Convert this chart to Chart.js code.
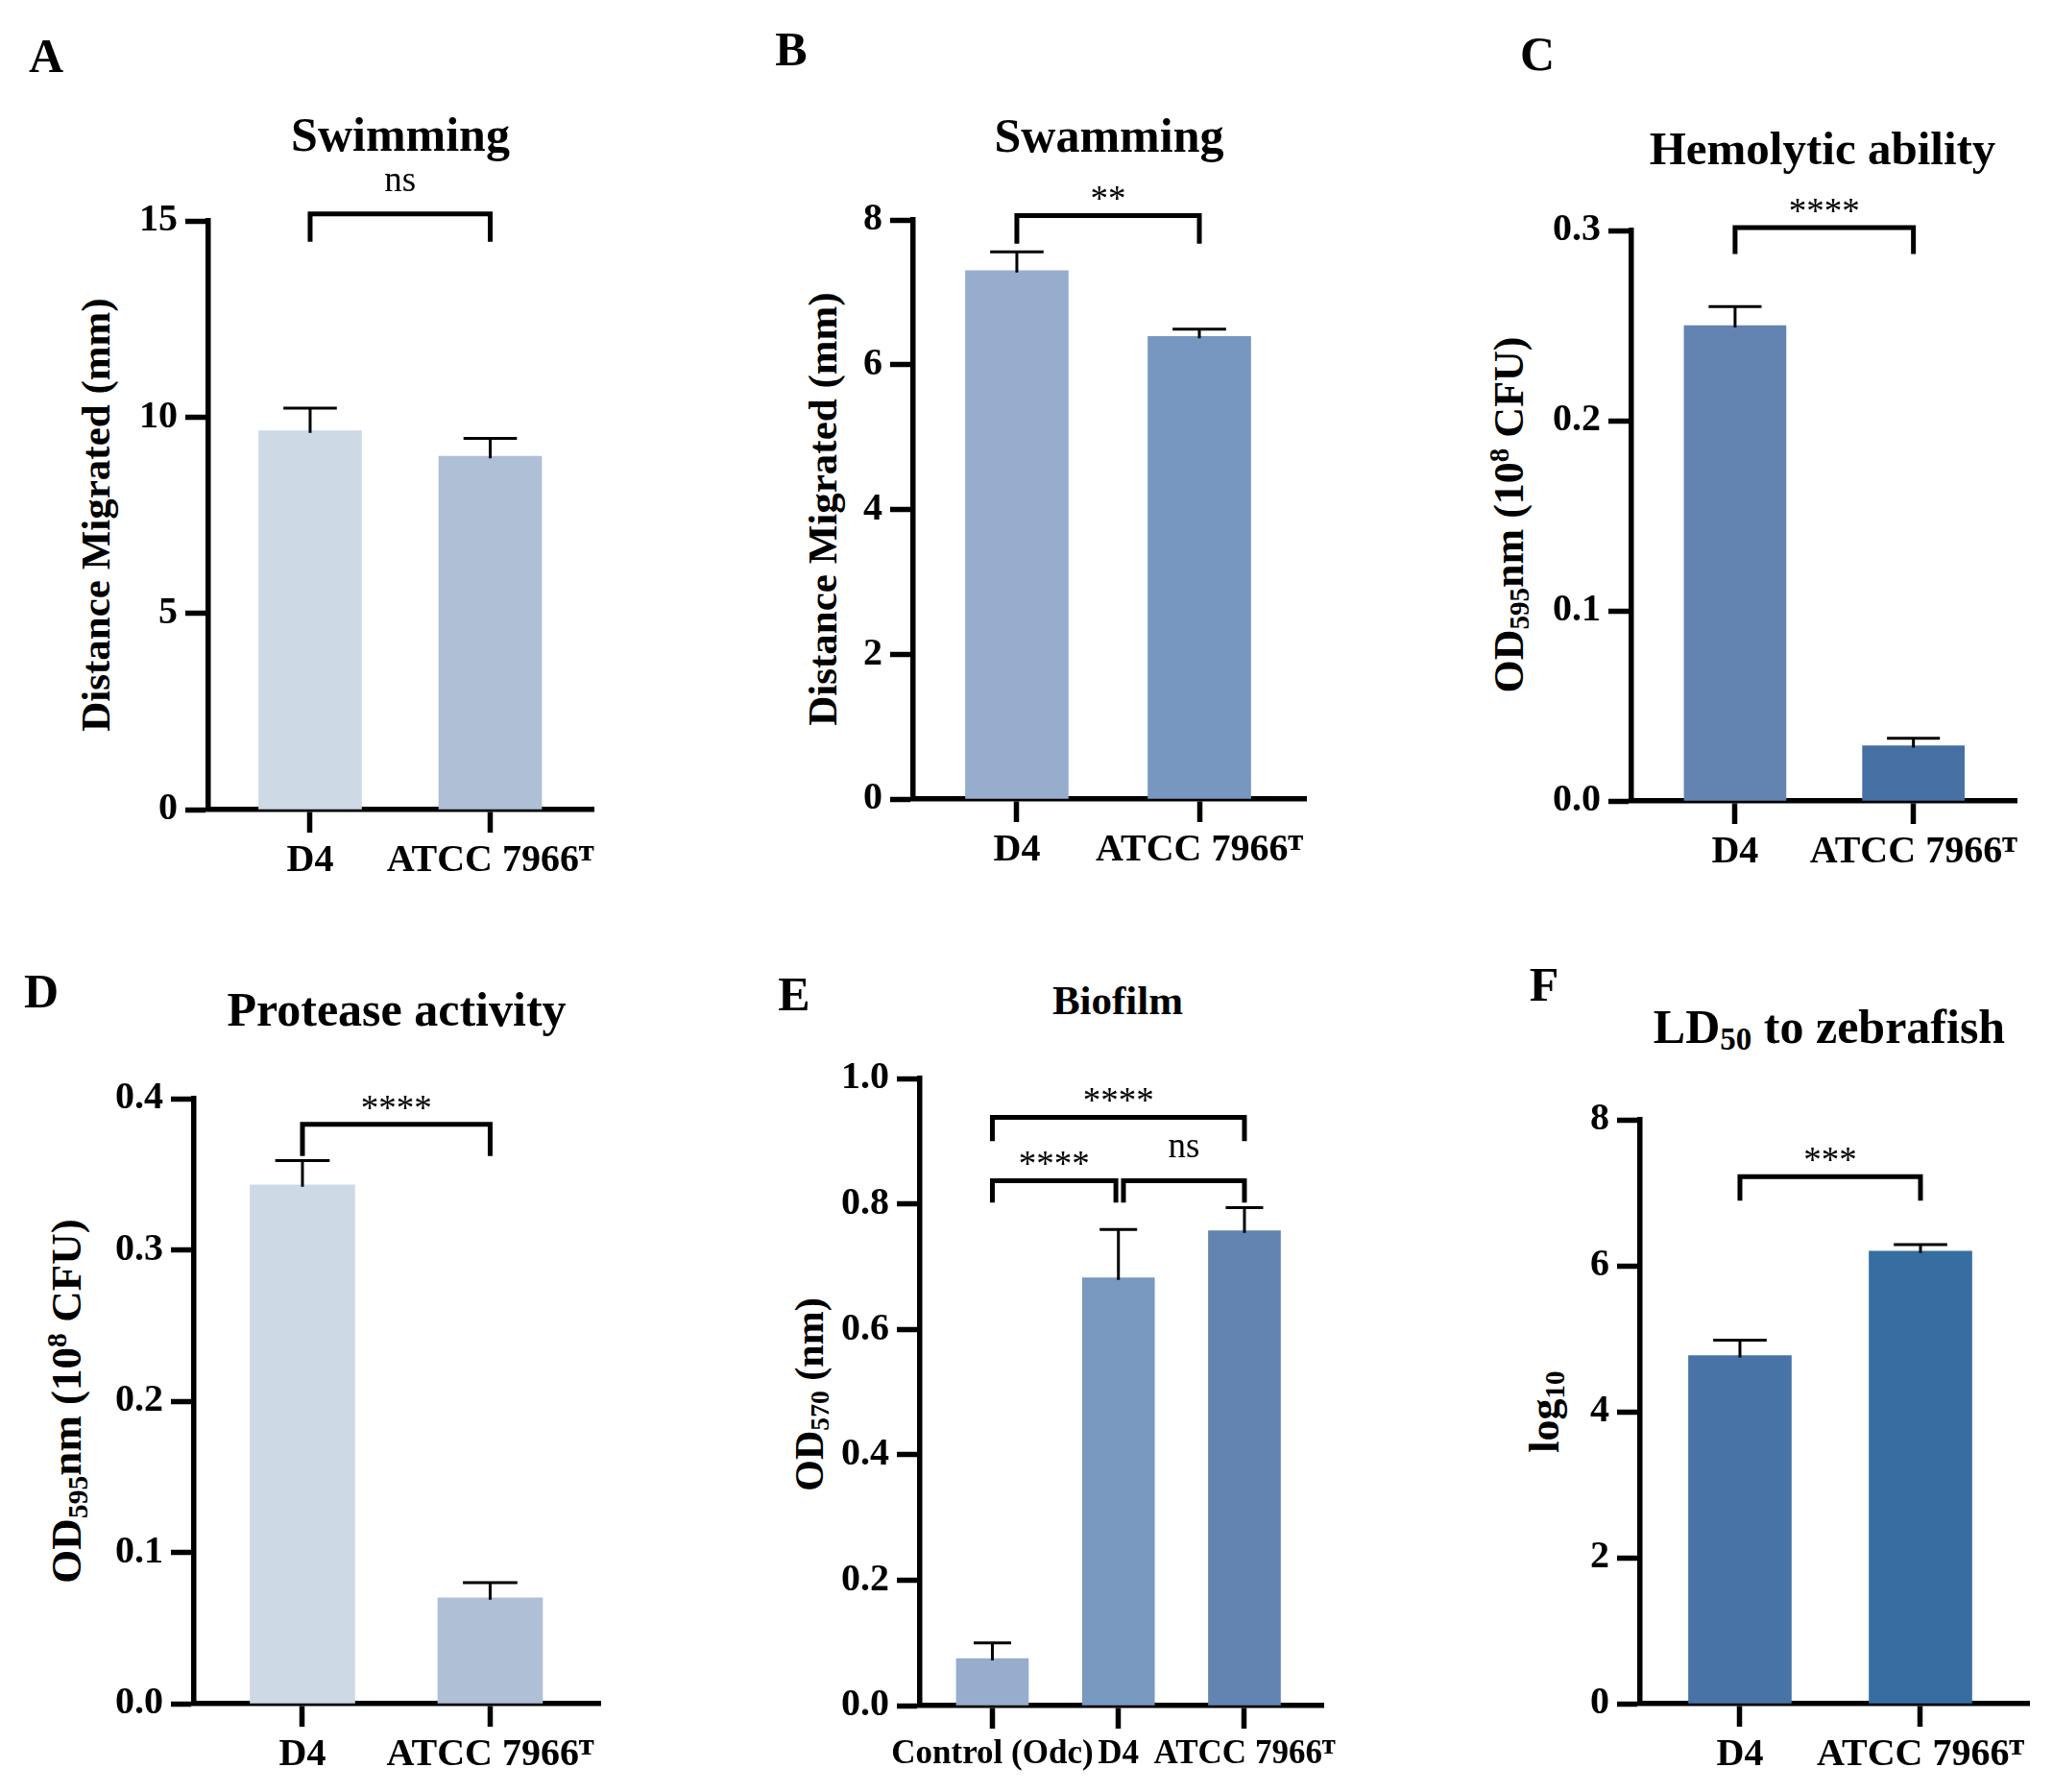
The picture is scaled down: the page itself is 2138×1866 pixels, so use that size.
<!DOCTYPE html>
<html>
<head>
<meta charset="utf-8">
<title>Virulence phenotypes</title>
<script src="https://cdn.jsdelivr.net/npm/chart.js@4.4.1/dist/chart.umd.min.js"></script>
<style>
  body { margin: 0; background: #fff; width: 2138px; height: 1866px; position: relative; overflow: hidden;
         font-family: 'Liberation Serif', 'Times New Roman', serif; color: #000; }
  canvas { position: absolute; }
  .txt { position: absolute; font-weight: bold; line-height: 1; white-space: nowrap; transform: translate(-50%, -50%); }
  .rot { transform: translate(-50%, -50%) rotate(-90deg); }
  .sub { font-size: 0.66em; position: relative; top: 0.22em; }
  .sup { font-size: 0.66em; position: relative; top: -0.5em; }
</style>
</head>
<body>
<!-- panel letters -->
<div class="txt" style="left:48px;top:58px;font-size:50px">A</div>
<div class="txt" style="left:824px;top:51px;font-size:50px">B</div>
<div class="txt" style="left:1601px;top:56px;font-size:50px">C</div>
<div class="txt" style="left:43px;top:1032px;font-size:50px">D</div>
<div class="txt" style="left:827px;top:1035px;font-size:50px">E</div>
<div class="txt" style="left:1608px;top:1025px;font-size:50px">F</div>

<!-- panel titles -->
<div class="txt" style="left:417px;top:140px;font-size:50px">Swimming</div>
<div class="txt" style="left:1155px;top:141px;font-size:50px">Swamming</div>
<div class="txt" style="left:1898px;top:154px;font-size:49px">Hemolytic ability</div>
<div class="txt" style="left:413px;top:1051px;font-size:50px">Protease activity</div>
<div class="txt" style="left:1164px;top:1041px;font-size:43px">Biofilm</div>
<div class="txt" style="left:1905px;top:1069px;font-size:50px">LD<span class="sub">50</span> to zebrafish</div>

<!-- y axis titles -->
<div class="txt rot" style="left:99px;top:536px;font-size:43px">Distance Migrated (mm)</div>
<div class="txt rot" style="left:856px;top:530px;font-size:43px">Distance Migrated (mm)</div>
<div class="txt rot" style="left:1572px;top:536px;font-size:44px">OD<span class="sub">595</span>nm (10<span class="sup">8</span> CFU)</div>
<div class="txt rot" style="left:69px;top:1459px;font-size:45px">OD<span class="sub">595</span>nm (10<span class="sup">8</span> CFU)</div>
<div class="txt rot" style="left:843px;top:1452px;font-size:42px">OD<span class="sub">570</span> (nm)</div>
<div class="txt rot" style="left:1609px;top:1470px;font-size:44px">log<span class="sub">10</span></div>

<script>
// categories
const strainLabels = ['D4', 'ATCC 7966ᵀ'];
const biofilmLabels = ['Control (Odc)', 'D4', 'ATCC 7966ᵀ'];

// means and upper SD
const swimmingMeans = [9.65, 9.0];
const swimmingSD = [0.58, 0.46];
const swarmingMeans = [7.3, 6.39];
const swarmingSD = [0.26, 0.1];
const hemolysisMeans = [0.25, 0.029];
const hemolysisSD = [0.01, 0.004];
const proteaseMeans = [0.343, 0.07];
const proteaseSD = [0.016, 0.01];
const biofilmMeans = [0.075, 0.682, 0.757];
const biofilmSD = [0.025, 0.077, 0.037];
const ld50Means = [4.77, 6.2];
const ld50SD = [0.21, 0.09];

// y axis: max, step, decimals
const swimmingAxis = [15, 5, 0];
const swarmingAxis = [8, 2, 0];
const hemolysisAxis = [0.3, 0.1, 1];
const proteaseAxis = [0.4, 0.1, 1];
const biofilmAxis = [1.0, 0.2, 1];
const ld50Axis = [8, 2, 0];

// significance brackets: from, to, top, bottom (data units), label
const swimmingSig = [[0, 1, 15.18, 14.47, 'ns']];
const swarmingSig = [[0, 1, 8.06, 7.67, '**']];
const hemolysisSig = [[0, 1, 0.3015, 0.2876, '****']];
const proteaseSig = [[0, 1, 0.383, 0.362, '****']];
const biofilmSig = [
  [0, 2, 0.938, 0.9, '****'],
  [0, 0.98, 0.837, 0.802, '****'],
  [1.04, 2, 0.837, 0.802, 'ns']
];
const ld50Sig = [[0, 1, 7.22, 6.89, '***']];

const swimmingColors = ['#cdd9e5', '#aebfd6'];
const swarmingColors = ['#97adcd', '#7797c0'];
const hemolysisColors = ['#6383b1', '#4670a3'];
const proteaseColors = ['#cdd9e5', '#aebfd6'];
const biofilmColors = ['#97adcd', '#7a99c0', '#6384b1'];
const ld50Colors = ['#4773a6', '#366ea2'];

const BLACK = '#000';
const SERIF = "'Liberation Serif', 'Times New Roman', serif";

// canvas box and chart area are page coordinates: [left, top, width, height] / [left, top, right, bottom]
const panels = [
  { id: 'A', canvas: [0, 0, 700, 935], area: [217, 230, 618, 843], xr: [-0.565, 1.573],
    labels: strainLabels, means: swimmingMeans, sd: swimmingSD, axis: swimmingAxis,
    sig: swimmingSig, colors: swimmingColors, bar: 107, labelSize: 40 },
  { id: 'B', canvas: [700, 0, 700, 935], area: [951, 229, 1360, 832], xr: [-0.568, 1.584],
    labels: strainLabels, means: swarmingMeans, sd: swarmingSD, axis: swarmingAxis,
    sig: swarmingSig, colors: swarmingColors, bar: 107, labelSize: 40 },
  { id: 'C', canvas: [1400, 0, 738, 935], area: [1699, 240, 2100, 834], xr: [-0.581, 1.578],
    labels: strainLabels, means: hemolysisMeans, sd: hemolysisSD, axis: hemolysisAxis,
    sig: hemolysisSig, colors: hemolysisColors, bar: 106, labelSize: 40 },
  { id: 'D', canvas: [0, 935, 700, 931], area: [202, 1144, 625, 1774], xr: [-0.578, 1.586],
    labels: strainLabels, means: proteaseMeans, sd: proteaseSD, axis: proteaseAxis,
    sig: proteaseSig, colors: proteaseColors, bar: 109, labelSize: 40 },
  { id: 'E', canvas: [700, 935, 720, 931], area: [958, 1123, 1378, 1776], xr: [-0.575, 2.625],
    labels: biofilmLabels, means: biofilmMeans, sd: biofilmSD, axis: biofilmAxis,
    sig: biofilmSig, colors: biofilmColors, bar: 75, labelSize: 35 },
  { id: 'F', canvas: [1420, 935, 718, 931], area: [1708, 1166, 2113, 1774], xr: [-0.553, 1.601],
    labels: strainLabels, means: ld50Means, sd: ld50SD, axis: ld50Axis,
    sig: ld50Sig, colors: ld50Colors, bar: 107, labelSize: 40 }
];

// error bars (upper half) and significance brackets
function annotations(p) {
  return {
    id: 'annot' + p.id,
    afterDraw(chart) {
      const { ctx, scales: { x, y } } = chart;
      ctx.save();
      ctx.strokeStyle = BLACK;
      ctx.lineCap = 'butt';
      ctx.lineWidth = 3;
      p.means.forEach((m, i) => {
        const cx = x.getPixelForValue(i);
        const y0 = y.getPixelForValue(m);
        const y1 = y.getPixelForValue(m + p.sd[i]);
        const half = p.bar * 0.26;
        ctx.beginPath();
        ctx.moveTo(cx, y0 + 2);
        ctx.lineTo(cx, y1);
        ctx.moveTo(cx - half, y1);
        ctx.lineTo(cx + half, y1);
        ctx.stroke();
      });
      ctx.lineWidth = 5;
      ctx.lineJoin = 'miter';
      ctx.fillStyle = BLACK;
      ctx.textAlign = 'center';
      ctx.textBaseline = 'alphabetic';
      ctx.font = '37px ' + SERIF;
      p.sig.forEach(([from, to, top, bottom, label]) => {
        const x1 = x.getPixelForValue(from);
        const x2 = x.getPixelForValue(to);
        const yt = y.getPixelForValue(top);
        const yb = y.getPixelForValue(bottom);
        ctx.beginPath();
        ctx.moveTo(x1, yb);
        ctx.lineTo(x1, yt);
        ctx.lineTo(x2, yt);
        ctx.lineTo(x2, yb);
        ctx.stroke();
        ctx.fillText(label, (x1 + x2) / 2, yt - (label === 'ns' ? 24 : 5));
      });
      ctx.restore();
    }
  };
}

panels.forEach(p => {
  const [cl, ct, cw, ch] = p.canvas;
  const [al, at, ar, ab] = p.area;
  const cv = document.createElement('canvas');
  cv.width = cw;
  cv.height = ch;
  cv.style.left = cl + 'px';
  cv.style.top = ct + 'px';
  cv.style.width = cw + 'px';
  cv.style.height = ch + 'px';
  document.body.appendChild(cv);

  const axisGrid = { display: true, drawOnChartArea: false, drawTicks: true, tickLength: 24,
                     tickWidth: 5.5, tickColor: BLACK, offset: false };
  const axisBorder = { display: true, color: BLACK, width: 5.5 };

  new Chart(cv, {
    type: 'bar',
    data: {
      datasets: [{
        data: p.means.map((v, i) => ({ x: i, y: v })),
        backgroundColor: p.colors,
        borderWidth: 0,
        barThickness: p.bar
      }]
    },
    options: {
      responsive: false,
      animation: false,
      layout: { padding: { left: 0, top: at - ct, right: cl + cw - ar, bottom: 0 } },
      plugins: { legend: { display: false }, tooltip: { enabled: false } },
      scales: {
        x: {
          type: 'linear',
          min: p.xr[0],
          max: p.xr[1],
          offset: false,
          afterFit: s => { s.height = ct + ch - ab; },
          afterBuildTicks: s => { s.ticks = p.labels.map((_, i) => ({ value: i })); },
          ticks: {
            callback: v => p.labels[v],
            color: BLACK,
            font: { family: SERIF, size: p.labelSize, weight: 'bold' },
            padding: 6,
            maxRotation: 0,
            autoSkip: false
          },
          grid: axisGrid,
          border: axisBorder
        },
        y: {
          min: 0,
          max: p.axis[0],
          afterFit: s => { s.width = al - cl; },
          ticks: {
            stepSize: p.axis[1],
            callback: v => Number(v).toFixed(p.axis[2]),
            color: BLACK,
            font: { family: SERIF, size: 40, weight: 'bold' },
            padding: 8
          },
          grid: axisGrid,
          border: axisBorder
        }
      }
    },
    plugins: [annotations(p)]
  });
});
</script>
</body>
</html>
